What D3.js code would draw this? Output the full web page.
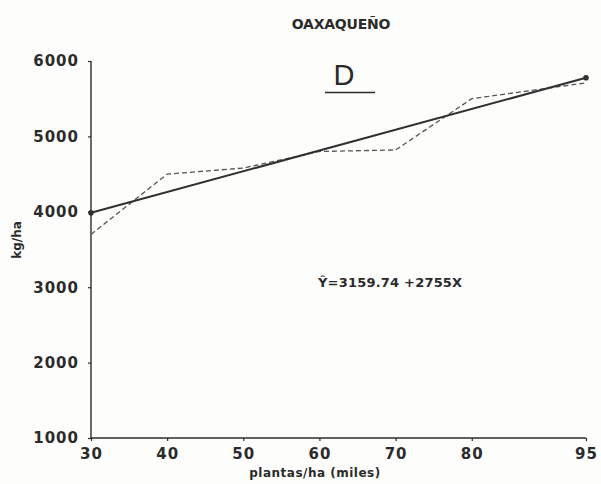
<!DOCTYPE html>
<html>
<head>
<meta charset="utf-8">
<script src="https://cdn.jsdelivr.net/npm/d3@7"></script>
<style>
  html, body { margin: 0; padding: 0; background: #fdfdfb; }
  svg { display: block; }
  text { font-family: "DejaVu Sans", sans-serif; font-weight: bold; fill: #2b2b2b; }
</style>
</head>
<body>
<svg id="chart" width="601" height="484"></svg>
<script>
// Plant density (thousands of plants per hectare) and observed grain yield (kg/ha)
const densities = [30, 40, 50, 60, 70, 80, 95];
const observedYield = [3700, 4500, 4580, 4800, 4820, 5500, 5710];

// Fitted regression: Y = a + b·X
const regIntercept = 3159.74;
const regSlope = 27.55;
const regRange = [30, 95];

// Axis ticks
const xTicks = [30, 40, 50, 60, 70, 80, 95];
const yTicks = [1000, 2000, 3000, 4000, 5000, 6000];

const titleText = "OAXAQUEÑO";
const panelLetter = "D";
const xTitle = "plantas/ha (miles)";
const yTitle = "kg/ha";
const equationText = "Ŷ=3159.74 +2755X";

const svg = d3.select("#chart");
const ink = "#2b2b2b";

const x = d3.scaleLinear().domain([30, 95]).range([91, 586]);
const y = d3.scaleLinear().domain([1000, 6000]).range([438, 61]);

// Axes
const yAxis = d3.axisLeft(y).tickValues(yTicks).tickSize(3).tickPadding(9)
  .tickFormat(d3.format("d"));
const xAxis = d3.axisBottom(x).tickValues(xTicks).tickSize(3).tickPadding(7)
  .tickFormat(d3.format("d"));

const gy = svg.append("g").attr("transform", `translate(${x(30)},0)`).call(yAxis);
const gx = svg.append("g").attr("transform", `translate(0,${y(1000)})`).call(xAxis);

[gx, gy].forEach(g => {
  g.select(".domain").attr("stroke", ink).attr("stroke-width", 1.4);
  g.selectAll(".tick line").attr("stroke", ink).attr("stroke-width", 1.2);
  g.selectAll(".tick text")
    .style("font-family", '"DejaVu Sans", sans-serif')
    .style("font-weight", "bold")
    .style("font-size", "15px")
    .style("letter-spacing", "1px")
    .attr("fill", ink);
});
// plain axis rules without outer ticks
gy.select(".domain").attr("d", `M0,${y(6000)}V${y(1000)}`);
gx.select(".domain").attr("d", `M${x(30)},0H${x(95)}`);

// Observed yields, dashed
const obsLine = d3.line().x((d, i) => x(densities[i])).y(d => y(d));
svg.append("path")
  .datum(observedYield)
  .attr("d", obsLine)
  .attr("fill", "none")
  .attr("stroke", "#555")
  .attr("stroke-width", 1.3)
  .attr("stroke-dasharray", "5,3");

// Fitted regression line
const fitted = regRange.map(v => ({ x: v, y: regIntercept + regSlope * v }));
svg.append("path")
  .datum(fitted)
  .attr("d", d3.line().x(d => x(d.x)).y(d => y(d.y)))
  .attr("fill", "none")
  .attr("stroke", "#303030")
  .attr("stroke-width", 2);

svg.selectAll("circle.end")
  .data(fitted)
  .join("circle")
  .attr("class", "end")
  .attr("cx", d => x(d.x))
  .attr("cy", d => y(d.y))
  .attr("r", 2.8)
  .attr("fill", "#303030");

// Titles and annotations
svg.append("text")
  .attr("x", 341).attr("y", 29)
  .attr("text-anchor", "middle")
  .style("font-size", "14px")
  .style("letter-spacing", "-0.2px")
  .text(titleText);

svg.append("text")
  .attr("x", 344).attr("y", 85)
  .attr("text-anchor", "middle")
  .style("font-size", "29px")
  .style("font-weight", "normal")
  .style("font-family", '"Liberation Sans", sans-serif')
  .text(panelLetter);

svg.append("line")
  .attr("x1", 325).attr("x2", 375)
  .attr("y1", 92.5).attr("y2", 92.5)
  .attr("stroke", ink).attr("stroke-width", 1.6);

svg.append("text")
  .attr("x", 318).attr("y", 287)
  .style("font-size", "13px")
  .style("letter-spacing", "0.2px")
  .text(equationText);

svg.append("text")
  .attr("x", 315).attr("y", 477)
  .attr("text-anchor", "middle")
  .style("font-size", "12px")
  .style("letter-spacing", "0.5px")
  .text(xTitle);

svg.append("text")
  .attr("transform", `translate(21,240) rotate(-90)`)
  .attr("text-anchor", "middle")
  .style("font-size", "12px")
  .text(yTitle);
</script>
</body>
</html>
